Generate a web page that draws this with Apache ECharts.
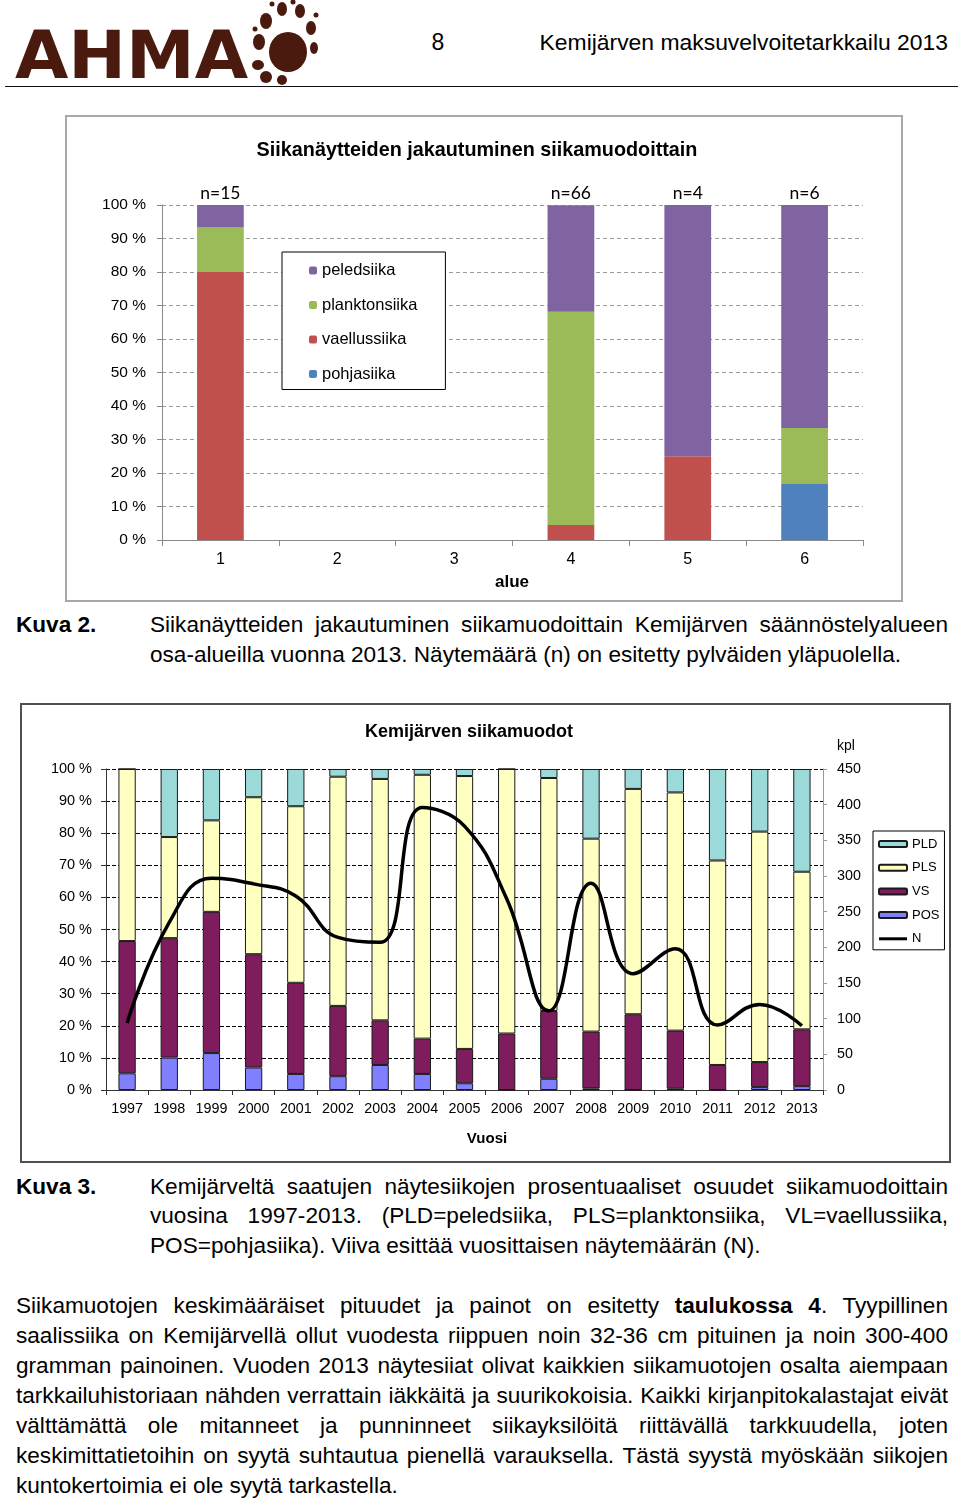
<!DOCTYPE html>
<html><head><meta charset="utf-8">
<script src="https://cdn.jsdelivr.net/npm/echarts@6/dist/echarts.min.js"></script>
<style>
html,body{margin:0;padding:0;background:#fff;}
body{width:960px;height:1502px;position:relative;overflow:hidden;font-family:"Liberation Sans",Arial,sans-serif;color:#000;}
.ln{position:absolute;height:30px;line-height:30px;font-size:22.6px;text-align:justify;text-align-last:justify;}
.last{text-align:left;text-align-last:left;}
.lab{position:absolute;height:30px;line-height:30px;font-size:22.6px;font-weight:bold;}
#c1{position:absolute;left:65px;top:115px;width:838px;height:487px;border:2px solid #a8a8a8;box-sizing:border-box;}
#c2{position:absolute;left:20px;top:703px;width:931px;height:460px;border:2px solid #505050;box-sizing:border-box;}
</style></head>
<body>
<svg style="position:absolute;left:0;top:0" width="330" height="92">
  <g fill="#4a1a0e">
    <text x="15" y="78" font-family="DejaVu Sans" font-weight="bold" font-size="66" textLength="233" lengthAdjust="spacingAndGlyphs">AHMA</text>
    <ellipse cx="288" cy="52" rx="19" ry="20"/>
    <ellipse cx="259" cy="42" rx="6" ry="8"/>
    <ellipse cx="266" cy="21" rx="6" ry="8"/>
    <ellipse cx="282" cy="9" rx="5" ry="7"/>
    <ellipse cx="300" cy="11" rx="5" ry="7"/>
    <ellipse cx="311" cy="28" rx="5" ry="7"/>
    <ellipse cx="314" cy="48" rx="4" ry="6"/>
    <circle cx="255" cy="29" r="2.5"/><circle cx="272" cy="4" r="2.5"/><circle cx="293" cy="2" r="2.5"/><circle cx="316" cy="15" r="2.5"/>
    <ellipse cx="258" cy="65" rx="6" ry="5"/>
    <ellipse cx="266" cy="77" rx="6" ry="6"/>
    <ellipse cx="282" cy="80" rx="5" ry="5"/>
  </g>
</svg>
<div style="position:absolute;left:428px;top:28px;width:20px;text-align:center;font-size:23px;line-height:28px;">8</div>
<div style="position:absolute;right:12px;top:28px;font-size:22.9px;line-height:28px;">Kemijärven maksuvelvoitetarkkailu 2013</div>
<div style="position:absolute;left:5px;top:86px;width:953px;height:0;border-top:1.5px solid #111;"></div>

<div id="c1"></div>

<div class="lab" style="left:16px;top:610px;">Kuva 2.</div>
<div class="ln" style="left:150px;top:610px;width:798px;">Siikanäytteiden jakautuminen siikamuodoittain Kemijärven säännöstelyalueen</div>
<div class="ln last" style="left:150px;top:640px;width:798px;">osa-alueilla vuonna 2013. Näytemäärä (n) on esitetty pylväiden yläpuolella.</div>

<div id="c2"></div>

<div class="lab" style="left:16px;top:1172px;">Kuva 3.</div>
<div class="ln" style="left:150px;top:1172px;width:798px;">Kemijärveltä saatujen näytesiikojen prosentuaaliset osuudet siikamuodoittain</div>
<div class="ln" style="left:150px;top:1201px;width:798px;">vuosina 1997-2013. (PLD=peledsiika, PLS=planktonsiika, VL=vaellussiika,</div>
<div class="ln last" style="left:150px;top:1231px;width:798px;">POS=pohjasiika). Viiva esittää vuosittaisen näytemäärän (N).</div>

<div class="ln" style="left:16px;top:1291px;width:932px;">Siikamuotojen keskimääräiset pituudet ja painot on esitetty <b>taulukossa 4</b>. Tyypillinen</div>
<div class="ln" style="left:16px;top:1321px;width:932px;">saalissiika on Kemijärvellä ollut vuodesta riippuen noin 32-36 cm pituinen ja noin 300-400</div>
<div class="ln" style="left:16px;top:1351px;width:932px;">gramman painoinen. Vuoden 2013 näytesiiat olivat kaikkien siikamuotojen osalta aiempaan</div>
<div class="ln" style="left:16px;top:1381px;width:932px;">tarkkailuhistoriaan nähden verrattain iäkkäitä ja suurikokoisia. Kaikki kirjanpitokalastajat eivät</div>
<div class="ln" style="left:16px;top:1411px;width:932px;">välttämättä ole mitanneet ja punninneet siikayksilöitä riittävällä tarkkuudella, joten</div>
<div class="ln" style="left:16px;top:1441px;width:932px;">keskimittatietoihin on syytä suhtautua pienellä varauksella. Tästä syystä myöskään siikojen</div>
<div class="ln last" style="left:16px;top:1471px;width:932px;">kuntokertoimia ei ole syytä tarkastella.</div>

<script>
// ---- Chart 1 data (percent of samples per area) ----
var areas = ['1', '2', '3', '4', '5', '6'];
var pohjasiika = [null, null, null, null, null, 16.7];
var vaellussiika = [80, null, null, 4.5, 25, null];
var planktonsiika = [13.3, null, null, 63.6, null, 16.7];
var peledsiika = [6.7, null, null, 31.8, 75, 66.6];
var sampleN = [15, null, null, 66, 4, 6];
var pctTicks = [0, 10, 20, 30, 40, 50, 60, 70, 80, 90, 100];

// ---- Chart 2 data ----
var years = ['1997','1998','1999','2000','2001','2002','2003','2004','2005','2006','2007','2008','2009','2010','2011','2012','2013'];
var POS = [5.2, 10.1, 11.5, 7.0, 5.0, 4.3, 7.8, 5.0, 2.1, 0, 3.5, 0.5, 0, 0.4, 0, 0.9, 1.2];
var VS  = [41.2, 37.2, 44.0, 35.3, 28.4, 21.9, 13.9, 11.0, 10.7, 17.6, 21.1, 17.7, 23.6, 18.1, 7.8, 7.8, 17.7];
var PLS = [53.6, 31.5, 28.5, 48.9, 55.0, 71.4, 75.2, 82.2, 85.0, 82.4, 72.6, 60.1, 70.2, 74.2, 63.7, 71.8, 49.1];
var PLD = [0, 21.2, 16.0, 8.8, 11.6, 2.4, 3.1, 1.8, 2.2, 0, 2.8, 21.7, 6.2, 7.3, 28.5, 19.5, 32.0];
var N   = [94, 235, 297, 289, 272, 214, 207, 396, 370, 268, 111, 290, 163, 198, 91, 120, 90];

var FONT = '"Liberation Sans", Arial, sans-serif';

var c1 = echarts.init(document.getElementById('c1'), null, {renderer: 'canvas'});
function bar1(name, data, color) {
  return {name: name, type: 'bar', stack: 'a', data: data, barWidth: '40%',
    itemStyle: {color: color}, emphasis: {disabled: true}};
}
var s1 = [
  bar1('pohjasiika', pohjasiika, '#4F81BD'),
  bar1('vaellussiika', vaellussiika, '#C0504D'),
  bar1('planktonsiika', planktonsiika, '#9BBB59'),
  bar1('peledsiika', peledsiika, '#8064A2')
];
s1[3].label = {show: true, position: 'top', distance: 3, fontFamily: 'Lato, "Open Sans", sans-serif', fontSize: 17.5, color: '#000',
  formatter: function (p) { return sampleN[p.dataIndex] ? 'n=' + sampleN[p.dataIndex] : ''; }};
c1.setOption({
  animation: false,
  textStyle: {fontFamily: FONT},
  grid: {left: 95, top: 88, width: 701, height: 335, containLabel: false},
  legend: {orient: 'vertical', left: 215, top: 135, padding: [10, 28, 7, 27],
    backgroundColor: '#fff', borderColor: '#000', borderWidth: 1, itemWidth: 8, itemHeight: 8, itemGap: 17.5,
    textStyle: {fontSize: 16.5, color: '#000', fontFamily: FONT, lineHeight: 16},
    data: ['peledsiika', 'planktonsiika', 'vaellussiika', 'pohjasiika']},
  xAxis: {type: 'category', data: areas,
    axisLine: {lineStyle: {color: '#8a8a8a'}},
    axisTick: {show: true, length: 6, lineStyle: {color: '#8a8a8a'}},
    axisLabel: {fontSize: 16, color: '#000', margin: 12}},
  yAxis: {type: 'value', min: pctTicks[0], max: pctTicks[pctTicks.length - 1], interval: 10,
    axisLine: {show: true, lineStyle: {color: '#8a8a8a'}},
    axisTick: {show: true, length: 5, lineStyle: {color: '#8a8a8a'}},
    axisLabel: {fontSize: 15.5, color: '#000', margin: 16, formatter: '{value} %'},
    splitLine: {show: true, lineStyle: {color: '#9a9a9a', type: [4, 3], width: 1}}},
  graphic: [
    {type: 'text', x: 410, y: 34, style: {text: 'Siikanäytteiden jakautuminen siikamuodoittain', font: 'bold 19.8px ' + FONT, fill: '#000', textAlign: 'center', textVerticalAlign: 'middle'}},
    {type: 'text', x: 445, y: 465, style: {text: 'alue', font: 'bold 17px ' + FONT, fill: '#000', textAlign: 'center', textVerticalAlign: 'middle'}}
  ],
  series: s1
});

var c2 = echarts.init(document.getElementById('c2'), null, {renderer: 'canvas'});
function bar2(name, data, color) {
  return {name: name, type: 'bar', stack: 'b', data: data, barWidth: '41%',
    itemStyle: {color: color, borderColor: '#1a1a1a', borderWidth: 1}, emphasis: {disabled: true}};
}
c2.setOption({
  animation: false,
  textStyle: {fontFamily: FONT},
  grid: {left: 84, top: 64, width: 717, height: 321, containLabel: false},
  legend: {orient: 'vertical', left: 851, top: 126, padding: [6, 5, 4, 5],
    backgroundColor: '#fff', borderColor: '#000', borderWidth: 1, itemWidth: 28, itemHeight: 6, itemGap: 9.7,
    textStyle: {fontSize: 13, color: '#000', fontFamily: FONT, lineHeight: 14},
    data: ['PLD', 'PLS', 'VS', 'POS', {name: 'N', icon: 'path://M0,0H28V3H0Z'}]},
  xAxis: {type: 'category', data: years,
    axisLine: {lineStyle: {color: '#333'}},
    axisTick: {show: true, length: 5, lineStyle: {color: '#333'}},
    axisLabel: {fontSize: 14.3, color: '#000', margin: 12}},
  yAxis: [
    {type: 'value', min: 0, max: 100, interval: 10, alignTicks: false,
      axisLine: {show: true, lineStyle: {color: '#333'}},
      axisTick: {show: true, length: 5, lineStyle: {color: '#333'}},
      axisLabel: {fontSize: 14.5, color: '#000', margin: 14, formatter: '{value} %'},
      splitLine: {show: true, lineStyle: {color: '#000', type: [4, 2], width: 1}}},
    {type: 'value', min: 0, max: 450, interval: 50, position: 'right', alignTicks: false,
      axisLine: {show: true, lineStyle: {color: '#999'}},
      axisTick: {show: true, length: 4, lineStyle: {color: '#999'}},
      axisLabel: {fontSize: 14.3, color: '#000', margin: 14},
      splitLine: {show: false}}
  ],
  graphic: [
    {type: 'text', x: 447, y: 27, style: {text: 'Kemijärven siikamuodot', font: 'bold 18px ' + FONT, fill: '#000', textAlign: 'center', textVerticalAlign: 'middle'}},
    {type: 'text', x: 465, y: 434, style: {text: 'Vuosi', font: 'bold 15px ' + FONT, fill: '#000', textAlign: 'center', textVerticalAlign: 'middle'}},
    {type: 'text', x: 824, y: 41, style: {text: 'kpl', font: '14px ' + FONT, fill: '#000', textAlign: 'center', textVerticalAlign: 'middle'}}
  ],
  series: [
    bar2('POS', POS, '#8080FF'),
    bar2('VS', VS, '#7E1C5E'),
    bar2('PLS', PLS, '#FFFFC2'),
    bar2('PLD', PLD, '#9CDADA'),
    {name: 'N', type: 'line', yAxisIndex: 1, data: N, smooth: 0.45, symbol: 'none', z: 10,
      lineStyle: {color: '#000', width: 3.5}, itemStyle: {color: '#000'}, emphasis: {disabled: true}}
  ]
});
</script>
</body></html>
